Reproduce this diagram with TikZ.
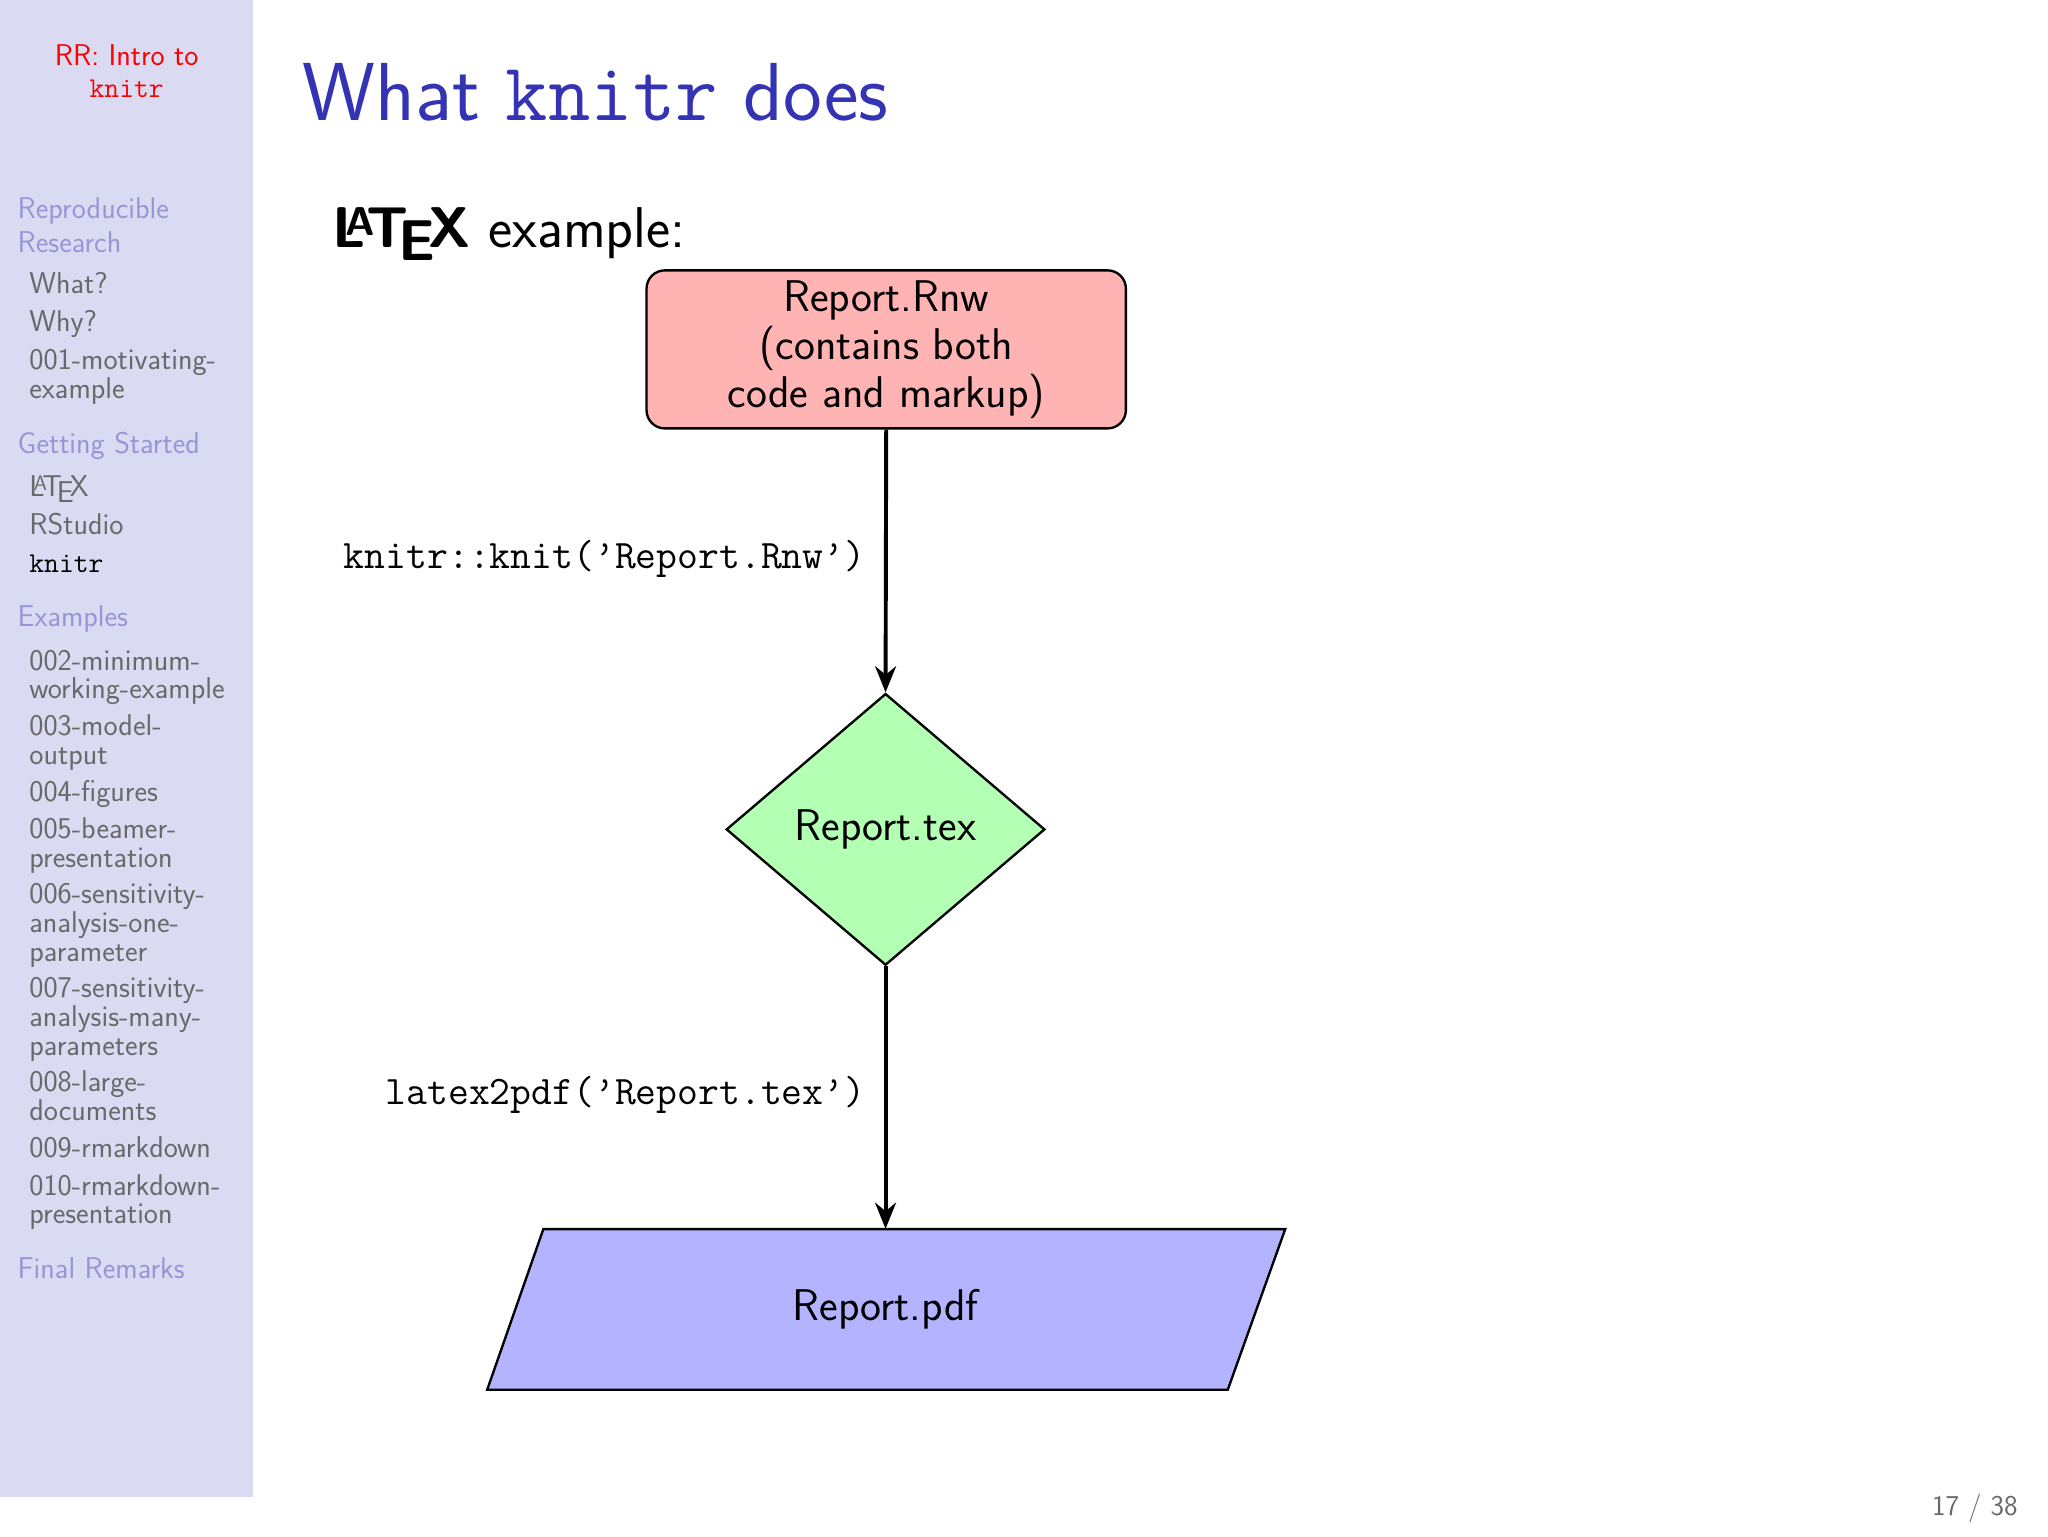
\documentclass[tikz,border=0pt]{standalone}
\usepackage{fontspec}
\usetikzlibrary{shapes.geometric,arrows.meta}
\definecolor{side}{RGB}{218,218,242}
\definecolor{sect}{RGB}{150,150,215}
\definecolor{item}{RGB}{105,105,105}
\definecolor{ttl}{RGB}{51,51,179}
\definecolor{rr}{RGB}{255,179,179}
\definecolor{gg}{RGB}{179,255,179}
\definecolor{bb}{RGB}{179,179,255}
\newcommand{\fs}[1]{\fontsize{#1}{1.2\dimexpr#1pt\relax}\selectfont}
\begin{document}
\begin{tikzpicture}[x=1pt,y=-1pt,
  sec/.style={anchor=base west,text=sect,font=\sffamily\fs{23}},
  itm/.style={anchor=base west,text=item,font=\sffamily\fs{23}},
  flow/.style={draw,line width=3pt,-{Stealth[length=20pt,width=16pt]}},
  code/.style={anchor=east,font=\ttfamily\fs{31}}]
\useasboundingbox (0,0) rectangle (1568,1176);
\fill[white] (0,0) rectangle (1568,1176);
\fill[side] (0,0) rectangle (194,1146);
\node[text=red,font=\sffamily\fs{23}] (t1) at (97,42) {RR: Intro to};
\node[text=red,font=\ttfamily\fs{22}] (t2) at (97,68) {knitr};
\node[sec] (s1) at (10,167) {Reproducible};
\node[sec] (s1b) at (10,193) {Research};
\node[itm] (i1) at (19,225) {What?};
\node[itm] (i2) at (19,254) {Why?};
\node[itm] (i3) at (19,283) {001-motivating-};
\node[itm] (i3b) at (19,305) {example};
\node[sec] (s2) at (10,347) {Getting Started};
\node[itm] (i4) at (19,380) {\LaTeX};
\node[itm] (i5) at (19,409) {RStudio};
\node[anchor=base west,font=\ttfamily\fs{22}] (i6) at (19,438) {knitr};
\node[sec] (s3) at (10,480) {Examples};
\foreach \t/\y [count=\k] in {002-minimum-/513,working-example/535,003-model-/563,output/585,004-figures/614,005-beamer-/642,presentation/664,006-sensitivity-/692,analysis-one-/714,parameter/736,007-sensitivity-/764,analysis-many-/786,parameters/808,008-large-/836,documents/858,009-rmarkdown/886,010-rmarkdown-/915,presentation/937}
  \node[itm] (e\k) at (19,\y) {\t};
\node[sec] (s4) at (10,979) {Final Remarks};
\node[anchor=base west,text=ttl,font=\sffamily\fs{63}] (title) at (228,92) {What \texttt{knitr} does};
\node[anchor=west,font=\sffamily\fs{44}] (ex) at (251,179) {\textbf{\LaTeX} example:};
\node[draw,fill=rr,rounded corners=14pt,line width=1.8pt,minimum width=367pt,minimum height=121pt,align=center,font=\sffamily\fs{34}] (rnw) at (678.5,267.5) {Report.Rnw\\[-4pt](contains both\\[-4pt]code and markup)};
\node[draw,fill=gg,diamond,line width=1.8pt,minimum width=244pt,minimum height=208pt,inner sep=0pt,font=\sffamily\fs{34}] (tex) at (678,635) {Report.tex};
\filldraw[fill=bb,line width=1.8pt] (416,941) -- (984,941) -- (940,1064) -- (373,1064) -- cycle;
\node[minimum width=520pt,minimum height=123pt,inner sep=0pt,font=\sffamily\fs{34}] (pdf) at (678,1002.5) {Report.pdf};
\draw[flow] (rnw.south) -- (tex.north);
\draw[flow] (tex.south) -- (pdf.north);
\node[code] (l1) at (666,428) {knitr::knit(’Report.Rnw’)};
\node[code] (l2) at (666,838) {latex2pdf(’Report.tex’)};
\node[text=item,font=\sffamily\fs{22}] (pg) at (1512,1155) {17 / 38};
\end{tikzpicture}
\end{document}
